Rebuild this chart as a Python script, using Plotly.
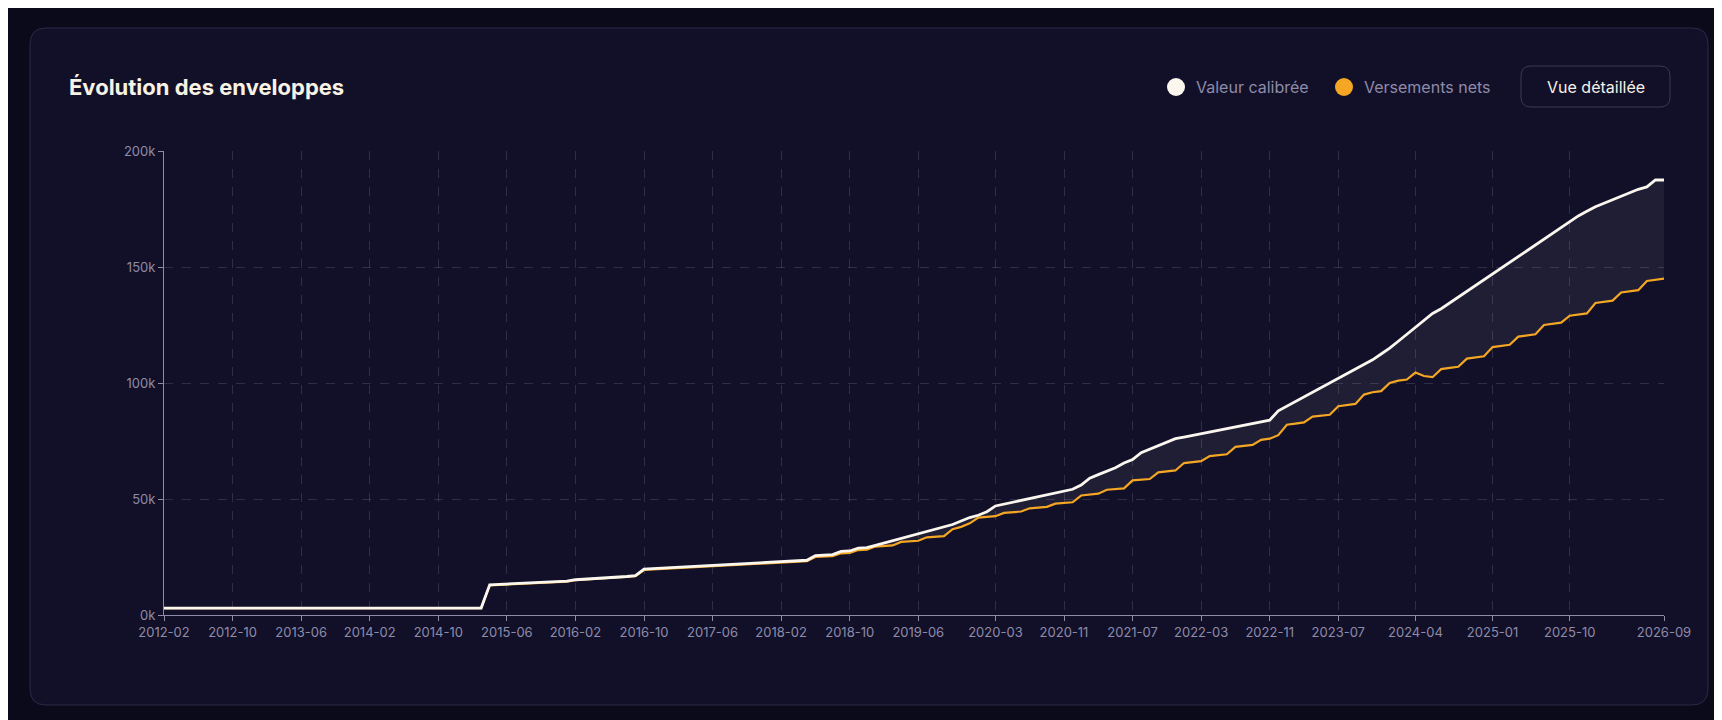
import plotly.graph_objects as go

def months(start_y, start_m, n):
    out = []
    y, m = start_y, start_m
    for _ in range(n):
        out.append(f"{y}-{m:02d}")
        m += 1
        if m > 12:
            m = 1; y += 1
    return out

dates = months(2012, 2, 176)

valeur = (
    [3]*11 + [3]*12 + [3]*12 +
    [3, 3, 3, 13, 13.2, 13.4, 13.6, 13.8, 14, 14.1, 14.2, 14.4] +
    [14.6, 15.2, 15.4, 15.6, 15.8, 16, 16.3, 16.6, 17, 19.8, 20, 20.2] +
    [20.4, 20.6, 20.8, 21, 21.2, 21.4, 21.6, 21.8, 22, 22.2, 22.4, 22.6] +
    [22.8, 23, 23.2, 23.4, 23.6, 25.6, 25.8, 26, 27.4, 27.6, 28.8, 29] +
    [30, 31, 32, 33, 34, 35, 36, 37, 38, 39, 40.5, 42] +
    [43, 44.5, 47, 47.8, 48.6, 49.4, 50.2, 51, 51.8, 52.6, 53.4, 54.2] +
    [56, 59, 60.5, 62, 63.5, 65.5, 67, 70, 71.5, 73, 74.5, 76] +
    [76.7, 77.4, 78.1, 78.8, 79.5, 80.2, 80.9, 81.6, 82.3, 83, 84, 88] +
    [90, 92, 94, 96, 98, 100, 102, 104, 106, 108, 110, 112.5] +
    [115, 118, 121, 124, 127, 130, 132, 134.5, 137, 139.5, 142, 144.5] +
    [147, 149.5, 152, 154.5, 157, 159.5, 162, 164.5, 167, 169.5, 172, 174] +
    [176, 177.5, 179, 180.5, 182, 183.5, 184.5, 187.5, 187.5]
)

versements = (
    [3]*11 + [3]*12 + [3]*12 +
    [3, 3, 3, 12.8, 13, 13.2, 13.4, 13.6, 13.8, 13.9, 14, 14.2] +
    [14.4, 15, 15.2, 15.4, 15.6, 15.8, 16.1, 16.4, 16.7, 19.4, 19.6, 19.8] +
    [20, 20.2, 20.4, 20.6, 20.8, 21, 21.2, 21.4, 21.6, 21.8, 22, 22.2] +
    [22.4, 22.6, 22.8, 23, 23.2, 25, 25.2, 25.4, 26.6, 26.8, 28, 28.2] +
    [29.5, 29.7, 30, 31.5, 31.7, 32, 33.5, 33.7, 34, 37, 38, 39.5] +
    [42, 42.3, 42.6, 44, 44.3, 44.6, 46, 46.3, 46.6, 48, 48.3, 48.6] +
    [51.5, 52, 52.3, 54, 54.3, 54.6, 58, 58.3, 58.6, 61.5, 62, 62.3] +
    [65.5, 66, 66.3, 68.5, 69, 69.3, 72.5, 73, 73.3, 75.5, 76, 77.5] +
    [82, 82.5, 83, 85.5, 86, 86.3, 90, 90.5, 91, 95, 96, 96.5] +
    [100, 101, 101.5, 104.5, 103, 102.5, 106, 106.5, 107, 110.5, 111, 111.5] +
    [115.5, 116, 116.5, 120, 120.5, 121, 125, 125.5, 126, 129, 129.5, 130] +
    [134.5, 135, 135.5, 139, 139.5, 140, 144, 144.5, 145]
)

x_ticks = ["2012-02", "2012-10", "2013-06", "2014-02", "2014-10", "2015-06", "2016-02",
           "2016-10", "2017-06", "2018-02", "2018-10", "2019-06", "2020-03", "2020-11",
           "2021-07", "2022-03", "2022-11", "2023-07", "2024-04", "2025-01", "2025-10", "2026-09"]
y_ticks = [0, 50, 100, 150, 200]
y_labels = ["0k", "50k", "100k", "150k", "200k"]

fig = go.Figure()
fig.add_trace(go.Scatter(x=dates, y=versements, mode="lines",
                         line=dict(color="#f5a623", width=2.2), name="Versements nets"))
fig.add_trace(go.Scatter(x=dates, y=valeur, mode="lines", fill="tonexty",
                         fillcolor="rgba(255,255,255,0.06)",
                         line=dict(color="#fbf7ee", width=2.8), name="Valeur calibrée"))

W, H = 1722, 720
L, R, T, B = 156, 66, 143, 113
PW, PH = W - L - R, H - T - B
def px(x): return (x - L) / PW
def py(y): return (H - B - y) / PH

def rpath(x0, y0, x1, y1, r):
    X0, X1 = px(x0), px(x1)
    Y0, Y1 = py(y0), py(y1)
    rx, ry = r / PW, r / PH
    return (f"M{X0+rx},{Y0} L{X1-rx},{Y0} Q{X1},{Y0} {X1},{Y0-ry} L{X1},{Y1+ry} Q{X1},{Y1} {X1-rx},{Y1} "
            f"L{X0+rx},{Y1} Q{X0},{Y1} {X0},{Y1+ry} L{X0},{Y0-ry} Q{X0},{Y0} {X0+rx},{Y0} Z")

shapes = [
    dict(type="path", xref="paper", yref="paper", path=rpath(22, 20, 1700, 697, 16),
         fillcolor="#121029", line=dict(color="#2b2946", width=1), layer="below"),
    dict(type="path", xref="paper", yref="paper", path=rpath(1513, 58, 1662, 99, 10),
         fillcolor="#121029", line=dict(color="#3a3856", width=1)),
    dict(type="circle", xref="paper", yref="paper", x0=px(1159), x1=px(1177), y0=py(88), y1=py(70),
         fillcolor="#fbf7ee", line=dict(width=0)),
    dict(type="circle", xref="paper", yref="paper", x0=px(1327), x1=px(1345), y0=py(88), y1=py(70),
         fillcolor="#f5a623", line=dict(width=0)),
]

annotations = [
    dict(text="<b>Évolution des enveloppes</b>", x=px(59), y=py(79), xref="paper", yref="paper",
         xanchor="left", yanchor="middle", showarrow=False,
         font=dict(size=22, color="#f7f2e4", family="Inter")),
    dict(text="Valeur calibrée", x=px(1186), y=py(79), xref="paper", yref="paper",
         xanchor="left", yanchor="middle", showarrow=False, font=dict(size=16, color="#8e8ba8")),
    dict(text="Versements nets", x=px(1354), y=py(79), xref="paper", yref="paper",
         xanchor="left", yanchor="middle", showarrow=False, font=dict(size=16, color="#8e8ba8")),
    dict(text="Vue détaillée", x=px(1587.5), y=py(79), xref="paper", yref="paper",
         xanchor="center", yanchor="middle", showarrow=False, font=dict(size=16, color="#f7f2e4")),
]

fig.update_layout(
    width=W, height=H, paper_bgcolor="#0b0a1a", plot_bgcolor="rgba(0,0,0,0)",
    margin=dict(l=L, r=R, t=T, b=B), showlegend=False,
    font=dict(family="Inter", color="#8e8ba8"),
    shapes=shapes, annotations=annotations,
    xaxis=dict(type="category", tickmode="array", tickvals=x_ticks, ticktext=x_ticks,
               range=[0, len(dates) - 1], showgrid=True, gridcolor="rgba(255,255,255,0.13)",
               griddash="dash", showline=True, linecolor="#8e8ba8", ticks="outside",
               tickcolor="#8e8ba8", ticklen=5, tickfont=dict(size=13, color="#8e8ba8"), zeroline=False),
    yaxis=dict(range=[0, 200], tickmode="array", tickvals=y_ticks, ticktext=y_labels,
               showgrid=True, gridcolor="rgba(255,255,255,0.13)", griddash="dash",
               showline=True, linecolor="#8e8ba8", ticks="outside", tickcolor="#8e8ba8",
               ticklen=5, tickfont=dict(size=13, color="#8e8ba8"), zeroline=False),
)

fig.write_html("out.html")
